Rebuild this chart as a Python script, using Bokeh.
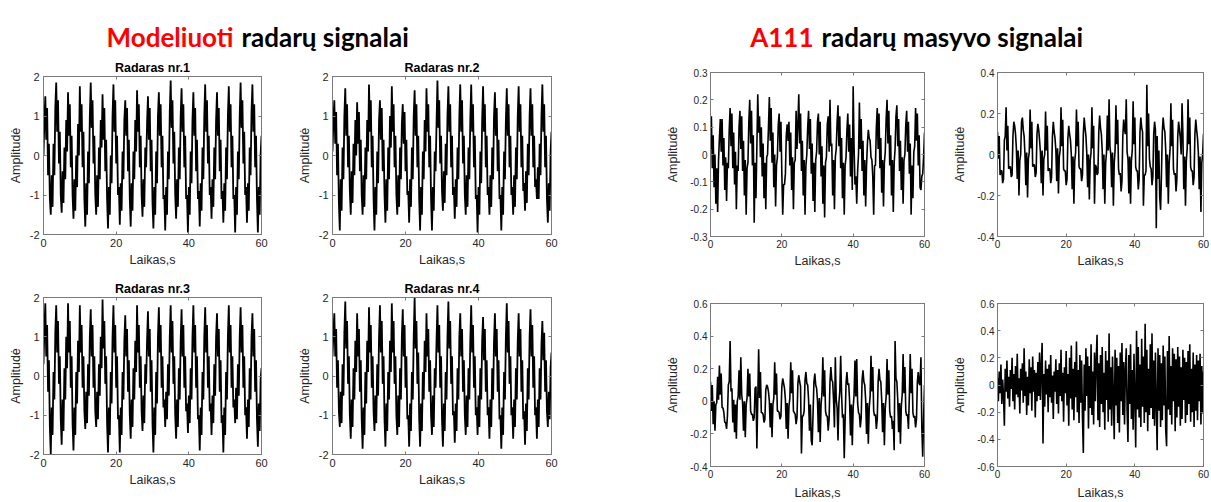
import numpy as np
from bokeh.plotting import figure
from bokeh.layouts import row, column
from bokeh.models import Range1d, FixedTicker, LinearAxis, Label, CustomJSTickFormatter
from bokeh.embed import file_html
from bokeh.resources import INLINE

SAMPLE_STEP = 0.25  # seconds between samples

# ---- Modeliuoti radarų signalai ----
radar_1 = [
    0.0, 0.9, 1.5, 0.4, 1.2, -0.5, 0.3, -1.1, -1.5, -0.5, -1.3, 0.3, -0.5, 1.2,
    1.85, 0.6, 1.4, -0.2, 0.6, -1.0, -1.45, -0.4, -1.2, 0.2, -0.6, 0.9, 0.1,
    1.6, 0.5, 1.3, -0.3, 0.5, -1.0, -1.6, -0.6, -1.4, 0.0, -0.8, 0.8, 0.0,
    1.75, 0.6, 1.3, -0.3, 0.6, -1.1, -1.8, -0.7, -1.5, 0.1, -0.7, 1.0,
    1.85, 0.7, 1.4, -0.2, 0.5, -1.0, -1.5, -0.5, -1.3, 0.2, -0.6, 0.9, 0.2,
    1.55, 0.4, 1.2, -0.4, 0.4, -1.1, -1.85, -0.8, -1.5, 0.0, -0.7, 1.0,
    1.8, 0.6, 1.4, -0.2, 0.5, -1.0, -0.8, -1.75, -0.7, -1.4, 0.1, -0.6, 0.9,
    1.4, 0.5, 1.2, -0.4, 0.4, -1.1, -1.8, -0.7, -1.4, 0.1, -0.6, 0.9, 0.1,
    1.65, 0.6, 1.3, -0.3, 0.5, -1.0, -1.55, -0.6, -1.3, 0.2, -0.3, 0.8,
    1.5, 0.4, 1.2, -0.4, 0.4, -1.2, -1.85, -0.8, -1.5, 0.1, -0.7, 1.0,
    1.6, 0.5, 1.3, -0.3, 0.5, -1.1, -1.0, -1.9, -0.8, -1.5, 0.1, -0.6, 1.1,
    1.9, 0.7, 1.4, -0.2, 0.6, -1.0, -1.6, -0.6, -1.3, 0.2, -0.6, 1.0,
    1.7, 0.6, 1.3, -0.3, 0.5, -1.1, -1.0, -1.95, -0.8, -1.5, 0.1, -0.7, 0.9,
    1.6, 0.5, 1.2, -0.4, 0.4, -1.1, -0.9, -1.8, -0.7, -1.4, 0.2, -0.6, 1.0,
    1.8, 0.6, 1.4, -0.2, 0.5, -1.0, -0.8, -1.6, -0.6, -1.3, 0.2, -0.6, 0.9,
    1.6, 0.5, 1.2, -0.4, 0.4, -1.1, -0.9, -1.7, -0.7, -1.4, 0.2, -0.6, 1.0,
    1.75, 0.6, 1.3, -0.3, 0.5, -1.1, -1.0, -1.95, -0.8, -1.5, 0.1, -0.6, 1.0,
    1.85, 0.7, 1.4, -0.2, 0.6, -1.0, -0.8, -1.7, -0.7, -1.4, 0.2, -0.5, 1.1,
    1.8, 0.6, 1.3, -0.3, 0.5, -1.1, -1.95, -0.8, -1.5, 0.0, 0.5,
]
radar_2 = [
    0.1, 0.9, 1.4, 0.3, 1.1, -0.5, 0.3, -1.2, -1.9, -0.6, -1.4, 0.2, -0.6, 1.0,
    1.7, 0.5, 1.3, -0.3, 0.5, -0.9, -1.5, -0.4, -1.2, 0.3, -0.5, 0.9, 0.0,
    1.35, 0.3, 1.1, -0.4, 0.4, -1.0, -1.5, -0.5, -1.3, 0.2, -0.6, 0.9, 0.1,
    1.8, 0.6, 1.4, -0.3, 0.5, -1.1, -1.9, -0.8, -1.5, 0.1, -0.7, 0.9,
    1.4, 0.4, 1.2, -0.4, 0.4, -1.0, -1.7, -0.6, -1.4, 0.2, -0.6, 1.0, 0.2,
    1.75, 0.6, 1.3, -0.3, 0.5, -1.0, -1.5, -0.5, -1.3, 0.2, -0.6, 0.8,
    1.3, 0.3, 1.1, -0.4, 0.4, -1.0, -0.9, -1.7, -0.6, -1.3, 0.2, -0.6, 1.0,
    1.65, 0.5, 1.3, -0.3, 0.5, -1.1, -1.9, -0.8, -1.5, 0.1, -0.6, 0.9, 0.1,
    1.7, 0.6, 1.3, -0.3, 0.5, -1.1, -1.9, -0.8, -1.4, 0.1, -0.4, 0.8,
    1.9, 0.7, 1.4, -0.2, 0.5, -0.9, -1.4, -0.4, -1.2, 0.3, -0.5, 1.0,
    1.75, 0.6, 1.3, -0.3, 0.5, -1.0, -0.8, -1.6, -0.6, -1.3, 0.2, -0.6, 1.0,
    1.8, 0.6, 1.4, -0.2, 0.5, -1.0, -1.5, -0.5, -1.3, 0.2, -0.6, 0.9,
    1.8, 0.6, 1.3, -0.3, 0.5, -1.1, -1.0, -1.95, -0.8, -1.5, 0.1, -0.7, 0.9,
    1.75, 0.6, 1.3, -0.3, 0.5, -1.0, -0.8, -1.5, -0.5, -1.3, 0.2, -0.6, 1.0,
    1.6, 0.5, 1.2, -0.4, 0.4, -1.1, -1.0, -1.9, -0.8, -1.5, 0.1, -0.6, 0.9,
    1.7, 0.5, 1.3, -0.3, 0.5, -1.0, -0.8, -1.5, -0.5, -1.3, 0.2, -0.6, 1.0,
    1.75, 0.6, 1.3, -0.3, 0.5, -0.9, -0.7, -1.4, -0.4, -1.2, 0.3, -0.5, 1.0,
    1.7, 0.5, 1.3, -0.3, 0.5, -0.8, -0.6, -1.1, -0.3, -1.1, 0.3, -0.5, 1.0,
    1.8, 0.6, 1.3, -0.3, 0.5, -1.1, -1.7, -0.7, -1.4, 0.1, 0.6,
]
radar_3 = [
    0.3, 1.2, 1.85, 0.5, 1.3, -0.4, 0.4, -1.3, -2.0, -0.8, -1.5, 0.1, -0.6, 1.1,
    1.8, 0.6, 1.4, -0.2, 0.5, -1.1, -1.75, -0.6, -1.4, 0.2, -0.6, 1.0, 0.2,
    1.85, 0.6, 1.4, -0.3, 0.5, -1.2, -1.9, -0.8, -1.5, 0.1, -0.7, 0.9, 0.1,
    1.8, 0.6, 1.3, -0.3, 0.5, -0.9, -1.35, -0.4, -1.2, 0.3, -0.5, 1.0,
    1.7, 0.5, 1.3, -0.3, 0.5, -0.9, -1.3, -0.4, -1.1, 0.3, -0.5, 1.0, 0.2,
    1.95, 0.7, 1.4, -0.2, 0.5, -1.2, -1.95, -0.8, -1.5, 0.1, -0.7, 1.0,
    1.8, 0.6, 1.3, -0.3, 0.5, -1.1, -1.0, -1.95, -0.8, -1.5, 0.1, -0.6, 0.9,
    1.55, 0.5, 1.2, -0.4, 0.4, -1.0, -1.6, -0.6, -1.3, 0.2, -0.6, 0.9, 0.1,
    1.8, 0.6, 1.3, -0.3, 0.5, -0.9, -1.4, -0.5, -1.2, 0.3, -0.2, 0.9,
    1.65, 0.5, 1.2, -0.4, 0.4, -1.2, -1.95, -0.8, -1.5, 0.1, -0.7, 1.0,
    1.75, 0.6, 1.3, -0.3, 0.5, -0.8, -0.6, -1.3, -0.4, -1.1, 0.3, -0.5, 1.0,
    1.8, 0.6, 1.4, -0.2, 0.5, -1.0, -1.6, -0.6, -1.3, 0.2, -0.6, 0.9,
    1.7, 0.5, 1.3, -0.3, 0.5, -0.9, -0.7, -1.45, -0.5, -1.2, 0.2, -0.6, 1.0,
    1.8, 0.6, 1.3, -0.3, 0.5, -1.1, -1.0, -1.9, -0.8, -1.5, 0.1, -0.6, 1.0,
    1.75, 0.6, 1.3, -0.3, 0.5, -0.9, -0.7, -1.5, -0.5, -1.2, 0.3, -0.5, 1.0,
    1.6, 0.5, 1.2, -0.4, 0.4, -1.2, -1.0, -1.95, -0.8, -1.5, 0.1, -0.6, 1.0,
    1.8, 0.6, 1.3, -0.3, 0.5, -0.8, -0.6, -1.2, -0.3, -1.1, 0.3, -0.5, 1.0,
    1.75, 0.6, 1.3, -0.3, 0.5, -1.0, -0.8, -1.6, -0.6, -1.3, 0.2, -0.6, 1.0,
    1.6, 0.5, 1.2, -0.4, 0.4, -1.1, -1.8, -0.7, -1.4, -0.1, 0.2,
]
radar_4 = [
    0.5, 1.1, 1.6, 0.5, 1.2, -0.3, 0.4, -0.9, -1.3, -0.4, -1.2, 0.3, -0.5, 1.1,
    1.9, 0.7, 1.4, -0.2, 0.5, -1.0, -1.6, -0.6, -1.3, 0.2, -0.6, 0.9, 0.1,
    1.6, 0.5, 1.2, -0.4, 0.4, -1.1, -1.85, -0.8, -1.5, 0.1, -0.7, 0.9, 0.1,
    1.75, 0.6, 1.3, -0.3, 0.5, -0.9, -1.4, -0.5, -1.2, 0.3, -0.5, 1.0,
    1.8, 0.6, 1.4, -0.2, 0.5, -1.1, -1.8, -0.7, -1.4, 0.1, -0.6, 0.9, 0.1,
    1.85, 0.6, 1.4, -0.2, 0.5, -1.0, -1.5, -0.5, -1.3, 0.2, -0.6, 1.0,
    1.7, 0.5, 1.3, -0.3, 0.5, -1.1, -1.0, -1.8, -0.7, -1.4, 0.1, -0.6, 1.0,
    2.0, 0.7, 1.4, -0.2, 0.6, -1.1, -1.8, -0.7, -1.4, 0.1, -0.6, 0.9, 0.1,
    1.6, 0.5, 1.2, -0.4, 0.4, -1.0, -1.5, -0.5, -1.3, 0.2, -0.3, 0.9,
    1.8, 0.6, 1.3, -0.3, 0.5, -1.1, -1.8, -0.7, -1.4, 0.1, -0.6, 1.0,
    1.9, 0.7, 1.4, -0.2, 0.5, -1.0, -0.9, -1.7, -0.7, -1.4, 0.2, -0.6, 1.0,
    1.6, 0.5, 1.2, -0.4, 0.4, -1.0, -1.5, -0.5, -1.3, 0.2, -0.6, 0.9,
    1.8, 0.6, 1.3, -0.3, 0.5, -1.0, -0.8, -1.5, -0.5, -1.3, 0.2, -0.6, 0.9,
    1.5, 0.4, 1.2, -0.4, 0.4, -1.0, -0.8, -1.6, -0.6, -1.3, 0.2, -0.6, 0.9,
    1.6, 0.5, 1.2, -0.4, 0.4, -1.1, -1.0, -1.85, -0.8, -1.5, 0.1, -0.6, 1.0,
    1.85, 0.6, 1.4, -0.2, 0.5, -1.0, -0.8, -1.6, -0.6, -1.3, 0.2, -0.6, 0.9,
    1.6, 0.5, 1.2, -0.4, 0.4, -1.1, -0.9, -1.75, -0.7, -1.4, 0.2, -0.6, 1.0,
    1.7, 0.5, 1.3, -0.3, 0.5, -1.0, -0.8, -1.6, -0.6, -1.3, 0.2, -0.6, 0.8,
    1.4, 0.4, 1.1, -0.4, 0.4, -0.9, -1.3, -0.4, -1.1, 0.2, 0.6,
]

# ---- A111 radarų masyvo signalai ----
a111_1 = [
    0.02, 0.14, -0.05, 0.07, -0.12, 0.00, -0.18, -0.05, -0.21, -0.02, 0.06,
    0.13, 0.01, 0.13, -0.04, 0.06, -0.13, -0.01, -0.17, -0.03, -0.05, 0.09,
    0.17, 0.03, 0.15, -0.05, 0.08, -0.11, 0.01, -0.20, -0.04, -0.06, 0.10,
    0.16, 0.02, 0.14, -0.06, 0.05, -0.15, -0.02, -0.22, -0.05, -0.03, 0.12,
    0.20, 0.04, 0.16, -0.04, 0.07, -0.25, -0.03, -0.16, 0.03, 0.22, 0.08,
    0.14, -0.01, 0.10, -0.08, 0.04, -0.16, -0.03, -0.20, -0.01, 0.00, 0.10,
    0.21, 0.05, 0.17, -0.03, 0.08, -0.12, 0.00, -0.19, -0.04, -0.01, 0.11,
    0.15, 0.01, 0.12, -0.07, -0.22, -0.11, -0.11, -0.07, 0.07, 0.11, 0.05,
    0.12, -0.04, 0.08, -0.13, -0.01, -0.20, -0.03, -0.02, 0.16, 0.02, 0.11,
    0.22, 0.04, 0.15, -0.06, 0.05, -0.15, -0.02, -0.22, -0.04, 0.00, 0.10,
    0.16, 0.02, 0.13, -0.07, 0.04, -0.17, -0.03, -0.21, -0.02, 0.01, 0.12,
    0.15, 0.00, 0.12, -0.08, 0.03, -0.18, -0.04, -0.23, -0.03, -0.01, 0.11,
    0.14, 0.01, 0.20, 0.03, 0.04, -0.15, -0.02, -0.20, -0.01, 0.02, 0.12,
    0.18, 0.03, 0.14, -0.05, 0.06, -0.16, -0.03, -0.22, -0.04, -0.01, 0.09,
    0.15, 0.01, 0.11, -0.08, 0.06, -0.13, 0.25, 0.03, -0.11, -0.08, -0.18,
    -0.06, 0.00, 0.19, 0.02, 0.13, -0.06, 0.05, -0.15, -0.02, -0.19, -0.04,
    0.04, 0.09, 0.06, 0.05, -0.01, -0.02, -0.08, -0.22, -0.04, -0.04, 0.10,
    0.17, 0.02, 0.15, -0.05, 0.06, -0.14, -0.02, -0.19, -0.03, 0.01, 0.13,
    0.20, 0.04, 0.16, -0.04, 0.07, -0.15, -0.02, -0.21, -0.03, 0.02, 0.14,
    0.18, 0.03, 0.13, -0.06, 0.05, -0.13, -0.01, -0.18, -0.02, 0.00, 0.11,
    0.16, 0.01, 0.12, -0.07, 0.04, -0.22, -0.04, -0.16, 0.01, 0.03, 0.17,
    0.05, 0.15, -0.04, 0.07, -0.12, -0.13, -0.08, -0.07, -0.01, 0.08,
]
a111_2 = [
    0.11, -0.02, 0.09, -0.10, -0.08, -0.08, -0.14, -0.12, 0.07, 0.09,
    0.23, 0.02, 0.14, -0.07, -0.06, -0.06, -0.11, -0.10, 0.09, 0.16,
    0.14, 0.10, 0.03, -0.12, 0.02, -0.20, -0.03, 0.00, 0.16, 0.18,
    0.12, 0.09, 0.00, -0.15, 0.01, -0.21, -0.02, 0.01, 0.22, 0.03,
    0.16, -0.06, -0.05, -0.05, -0.11, -0.09, 0.10, 0.15, 0.12, 0.07,
    0.01, -0.14, 0.02, -0.20, -0.02, 0.00, 0.21, 0.02, 0.14, -0.08,
    -0.07, -0.07, -0.14, -0.11, 0.09, 0.16, 0.11, 0.08, 0.02, -0.13,
    0.03, -0.19, -0.01, 0.02, 0.23, 0.04, 0.17, -0.07, -0.08, -0.08,
    -0.15, -0.12, 0.08, 0.14, 0.10, 0.07, 0.00, -0.17, -0.01, -0.24,
    -0.03, 0.01, 0.22, 0.04, 0.16, -0.06, -0.07, -0.07, -0.13, -0.10,
    0.10, 0.18, 0.13, 0.09, 0.01, -0.16, 0.00, -0.22, -0.03, 0.01,
    0.23, 0.03, 0.14, -0.24, -0.05, -0.06, -0.10, -0.09, 0.11, 0.19,
    0.13, 0.10, 0.02, -0.17, 0.00, -0.24, -0.04, 0.01, 0.19, 0.02,
    0.27, 0.04, 0.00, -0.16, 0.01, -0.25, -0.04, 0.02, 0.24, 0.05,
    0.17, -0.07, -0.10, -0.09, -0.18, -0.13, 0.09, 0.17, 0.12, 0.10,
    0.27, 0.01, -0.02, -0.19, -0.01, -0.24, -0.03, 0.02, 0.26, 0.05,
    0.18, -0.06, -0.08, -0.08, -0.17, -0.12, 0.11, 0.18, 0.13, 0.11,
    -0.25, -0.10, -0.10, -0.08, 0.34, 0.04, 0.20, -0.02, -0.06, -0.07,
    -0.15, -0.11, 0.10, 0.16, 0.12, -0.36, 0.09, -0.12, 0.02, -0.21,
    -0.27, -0.10, 0.11, 0.18, 0.13, 0.11, 0.02, -0.16, 0.00, -0.24,
    -0.04, 0.02, 0.25, 0.04, 0.17, -0.07, -0.10, -0.09, -0.18, -0.12,
    0.09, 0.16, 0.12, 0.08, 0.00, 0.25, 0.10, -0.17, -0.01, -0.25,
    -0.03, 0.03, 0.27, 0.05, 0.18, -0.06, -0.08, -0.08, -0.15, -0.11,
    0.10, 0.17, 0.12, 0.08, 0.01, -0.17, -0.01, -0.28, -0.04, 0.00,
    0.10,
]
a111_3 = [
    0.12, -0.06, 0.10, -0.14, 0.00, -0.18, -0.02, -0.01, 0.15, 0.01,
    0.22, 0.04, 0.17, -0.04, -0.04, -0.07, -0.13, -0.13, -0.17, -0.09,
    0.10, 0.12, 0.37, 0.06, 0.08, -0.13, 0.01, -0.19, -0.02, -0.23,
    0.00, 0.03, 0.19, 0.01, 0.27, 0.04, -0.01, -0.18, 0.00, -0.22,
    -0.02, 0.02, 0.20, 0.03, 0.17, -0.06, -0.08, -0.08, -0.12, -0.10,
    0.08, 0.09, -0.29, 0.01, 0.32, 0.02, 0.18, -0.07, -0.07, -0.08,
    -0.13, -0.11, 0.07, 0.10, 0.09, 0.06, 0.00, -0.16, -0.01, -0.22,
    -0.02, 0.02, 0.24, 0.04, 0.17, -0.06, -0.06, -0.07, -0.11, -0.09,
    0.09, 0.14, 0.11, 0.08, 0.01, -0.17, -0.01, -0.23, -0.03, 0.02,
    0.24, 0.05, 0.19, -0.06, -0.07, -0.08, -0.14, -0.10, 0.11, 0.16,
    0.12, 0.09, -0.32, -0.09, -0.09, -0.06, 0.13, 0.18, 0.11, 0.10,
    0.01, -0.18, -0.02, -0.24, -0.27, -0.08, 0.12, 0.17, 0.10, 0.08,
    0.00, -0.19, 0.02, -0.25, -0.02, 0.05, 0.27, 0.03, 0.19, -0.06,
    -0.09, -0.09, -0.18, -0.11, 0.12, 0.21, 0.13, 0.12, 0.01, -0.16,
    0.27, 0.01, -0.04, -0.24, -0.01, 0.06, 0.28, 0.04, -0.10, -0.08,
    -0.35, -0.11, 0.11, 0.18, 0.10, 0.11, 0.00, -0.21, -0.02, -0.27,
    -0.04, 0.04, 0.25, 0.03, 0.26, -0.01, -0.07, -0.08, -0.16, -0.10,
    0.13, 0.19, 0.12, 0.10, 0.01, -0.20, -0.01, -0.26, -0.04, 0.03,
    0.28, 0.06, 0.21, -0.06, -0.09, -0.08, -0.17, -0.11, 0.12, 0.20,
    0.13, 0.12, 0.01, -0.19, -0.01, -0.27, -0.04, 0.03, 0.26, 0.04,
    0.19, -0.06, -0.10, -0.09, -0.17, -0.12, -0.30, 0.37, 0.14, 0.12,
    0.01, -0.19, -0.01, -0.26, -0.03, 0.04, 0.29, 0.05, 0.21, -0.06,
    -0.09, -0.08, -0.17, 0.03, 0.29, 0.05, 0.20, -0.07, -0.10, -0.09,
    -0.16, -0.11, 0.12, 0.18, 0.11, 0.10, 0.27, -0.16, -0.34, -0.10,
    0.10,
]
a111_4 = [
    0.05, -0.12, 0.10, -0.06, 0.15, -0.14, 0.04, -0.08, -0.30, 0.12,
    -0.05, 0.18, -0.10, 0.06, -0.16, 0.11, -0.03, 0.20, -0.12, 0.08,
    -0.18, 0.14, -0.07, 0.23, -0.09, 0.05, -0.21, 0.12, -0.04, 0.16,
    -0.13, 0.27, -0.08, 0.10, -0.22, 0.06, -0.15, 0.19, -0.06, 0.13,
    -0.19, 0.21, -0.05, 0.11, -0.24, 0.09, -0.12, 0.17, -0.08, 0.24,
    -0.11, 0.14, 0.31, -0.43, 0.08, -0.16, 0.18, -0.07, 0.12, -0.20,
    0.15, -0.09, 0.22, -0.13, 0.07, -0.25, 0.10, -0.05, 0.19, -0.14,
    0.11, -0.21, 0.16, -0.08, 0.26, -0.12, 0.09, -0.27, 0.13, -0.06,
    0.25, -0.15, 0.08, -0.30, 0.20, -0.10, 0.29, -0.18, 0.12, -0.26,
    0.17, -0.09, 0.32, -0.20, 0.11, -0.28, 0.22, -0.13, 0.18, -0.24,
    -0.50, 0.15, -0.19, 0.27, -0.08, 0.21, -0.32, 0.14, -0.17, 0.30,
    -0.22, 0.10, -0.29, 0.24, -0.12, 0.19, 0.37, -0.26, 0.16, -0.31,
    0.22, -0.14, 0.28, -0.20, 0.09, -0.33, 0.25, -0.11, 0.18, -0.27,
    0.38, -0.18, 0.13, -0.30, 0.21, -0.09, -0.40, 0.26, -0.15, 0.20,
    -0.28, 0.14, -0.35, 0.24, -0.12, 0.31, -0.22, 0.17, -0.29, 0.12,
    0.27, -0.19, -0.42, 0.22, -0.14, 0.30, -0.25, 0.11, -0.33, 0.23,
    -0.10, -0.46, 0.40, -0.18, 0.28, -0.24, 0.15, -0.31, 0.34, -0.16,
    0.21, -0.28, 0.45, -0.20, 0.26, -0.34, 0.12, -0.22, 0.30, -0.17,
    0.38, -0.25, 0.18, -0.30, 0.24, -0.13, -0.48, 0.27, -0.19, 0.22,
    -0.31, 0.16, -0.26, 0.29, -0.15, 0.21, -0.33, -0.45, 0.25, -0.18,
    0.36, -0.22, 0.14, -0.29, 0.27, -0.12, 0.23, -0.34, 0.19, -0.24,
    0.28, -0.16, 0.21, -0.30, 0.13, -0.25, 0.26, -0.11, 0.20, -0.28,
    0.17, -0.22, 0.25, -0.14, 0.30, -0.27, 0.12, -0.20, 0.24, -0.31,
    0.15, -0.19, 0.22, -0.26, 0.18, -0.12, 0.23, -0.29, 0.14, -0.21,
    0.10,
]

# ---- texts and ticks ----
model_titles = ["Radaras nr.1", "Radaras nr.2", "Radaras nr.3", "Radaras nr.4"]
x_label = "Laikas,s"
y_label = "Amplitudė"
x_ticks = [0, 20, 40, 60]
x_limits = (0, 60)
model_limits = (-2, 2)
model_ticks = [-2, -1, 0, 1, 2]
a111_limits = [(-0.3, 0.3), (-0.4, 0.4), (-0.4, 0.6), (-0.6, 0.6)]
a111_ticks = [
    [-0.3, -0.2, -0.1, 0, 0.1, 0.2, 0.3],
    [-0.4, -0.2, 0, 0.2, 0.4],
    [-0.4, -0.2, 0, 0.2, 0.4, 0.6],
    [-0.6, -0.4, -0.2, 0, 0.2, 0.4, 0.6],
]

BOX = "#7a7a7a"
TXT = "#262626"
FONT = "Liberation Sans"

fmt = CustomJSTickFormatter(code="return String(Number(tick.toFixed(2)));")


def make_panel(values, ylim, yticks, width, height, bl, br, bt, bb,
               title=None, tick_size="11px", lab_size="12.5px", lw=1.8,
               x_standoff=4, xl_standoff=3, y_standoff=4, yl_standoff=4):
    kw = dict(width=width, height=height,
              x_range=Range1d(*x_limits), y_range=Range1d(*ylim),
              toolbar_location=None, output_backend="svg",
              min_border_left=bl, min_border_right=br,
              min_border_top=bt, min_border_bottom=bb)
    if title:
        kw["title"] = title
    p = figure(**kw)
    t = np.arange(len(values)) * SAMPLE_STEP
    p.line(t, values, line_color="black", line_width=lw)
    p.grid.grid_line_color = None
    p.outline_line_color = BOX
    p.background_fill_color = "white"
    p.border_fill_color = "white"
    if title:
        p.title.text_font = FONT
        p.title.text_font_size = "12.5px"
        p.title.text_font_style = "bold"
        p.title.text_color = "#000000"
        p.title.align = "center"
        p.title.standoff = 4
    p.xaxis.ticker = FixedTicker(ticks=x_ticks)
    p.yaxis.ticker = FixedTicker(ticks=yticks)
    p.xaxis.axis_label = x_label
    p.yaxis.axis_label = y_label
    p.xaxis.major_label_standoff = x_standoff
    p.xaxis.axis_label_standoff = xl_standoff
    p.yaxis.major_label_standoff = y_standoff
    p.yaxis.axis_label_standoff = yl_standoff
    for ax in (p.xaxis[0], p.yaxis[0]):
        ax.formatter = fmt
        ax.major_tick_in = 3
        ax.major_tick_out = 0
        ax.minor_tick_line_color = None
        ax.axis_line_color = BOX
        ax.major_tick_line_color = BOX
        ax.major_label_text_font = FONT
        ax.major_label_text_font_size = tick_size
        ax.major_label_text_color = TXT
        ax.axis_label_text_font = FONT
        ax.axis_label_text_font_size = lab_size
        ax.axis_label_text_font_style = "normal"
        ax.axis_label_text_color = TXT
    # mirrored tick marks on the top and right edges (no labels drawn)
    for loc, tks in (("above", x_ticks), ("right", yticks)):
        ax = LinearAxis(ticker=FixedTicker(ticks=tks),
                        major_label_text_font_size="0px", major_label_text_color=None,
                        major_label_standoff=0, major_tick_in=3, major_tick_out=0,
                        minor_tick_line_color=None, axis_line_color=BOX,
                        major_tick_line_color=BOX)
        p.add_layout(ax, loc)
    return p


# left group (modelled signals)
f1 = make_panel(radar_1, model_limits, model_ticks, 290, 224, 43, 29, 24, 42, model_titles[0])
f3 = make_panel(radar_3, model_limits, model_ticks, 290, 226, 43, 29, 21, 48, model_titles[2])
f2 = make_panel(radar_2, model_limits, model_ticks, 280, 224, 42, 19, 24, 42, model_titles[1])
f4 = make_panel(radar_4, model_limits, model_ticks, 280, 226, 42, 19, 21, 48, model_titles[3])

# right group (A111 signals)
rk = dict(tick_size="10px", lab_size="12.5px", lw=1.6,
          x_standoff=3, xl_standoff=3, y_standoff=3, yl_standoff=7)
f5 = make_panel(a111_1, a111_limits[0], a111_ticks[0], 380, 224, 140, 26, 20, 40, **rk)
f7 = make_panel(a111_3, a111_limits[2], a111_ticks[2], 380, 226, 140, 26, 27, 35,
                **dict(rk, x_standoff=3, xl_standoff=5))
f6 = make_panel(a111_2, a111_limits[1], a111_ticks[1], 261, 224, 42, 8, 20, 40, **rk)
f8 = make_panel(a111_4, a111_limits[3], a111_ticks[3], 261, 226, 42, 8, 27, 35,
                **dict(rk, x_standoff=3, xl_standoff=5))

# heading strip
head = figure(width=1211, height=52, x_range=Range1d(0, 1211), y_range=Range1d(0, 52),
              toolbar_location=None, output_backend="svg", min_border=0,
              x_axis_location=None, y_axis_location=None)
head.outline_line_color = None
head.grid.grid_line_color = None
head_parts = [
    (233, "right", "Modeliuoti", "#ff0000"),
    (241, "left", "radarų signalai", "#000000"),
    (813, "right", "A111", "#ff0000"),
    (821, "left", "radarų masyvo signalai", "#000000"),
]
for hx, align, txt, col in head_parts:
    head.add_layout(Label(x=hx, y=16, text=txt, text_align=align, text_baseline="alphabetic",
                          text_font="Lato", text_font_style="bold", text_font_size="26px",
                          text_color=col))

grid_row = row(column(f1, f3), column(f2, f4), column(f5, f7), column(f6, f8))
page = column(head, grid_row)

open("out.html", "w").write(file_html(page, INLINE))
